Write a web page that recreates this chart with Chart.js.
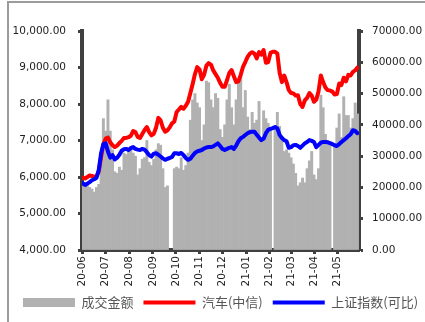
<!DOCTYPE html>
<html>
<head>
<meta charset="utf-8">
<script src="https://cdn.jsdelivr.net/npm/chart.js@4/dist/chart.umd.min.js"></script>
<style>
html, body { margin: 0; padding: 0; background: #fff; }
#wrap { position: relative; width: 425px; height: 322px; overflow: hidden; }
#frame { position: absolute; left: 7px; top: 1px; right: -10px; bottom: -10px;
         border-left: 2px solid #9b9b9b; border-top: 2px solid #9b9b9b; pointer-events: none; }
canvas { position: absolute; left: 0; top: 0; }
</style>
</head>
<body>
<div id="wrap"><canvas id="c" width="425" height="322"></canvas><div id="frame"></div></div>
<script>
// Sample dates (every third calendar day)
const dates = [
  '2020-06-09','2020-06-12','2020-06-15','2020-06-18','2020-06-21','2020-06-24','2020-06-27','2020-06-30',
  '2020-07-03','2020-07-06','2020-07-09','2020-07-12','2020-07-15','2020-07-18','2020-07-21','2020-07-24','2020-07-27','2020-07-30',
  '2020-08-02','2020-08-05','2020-08-08','2020-08-11','2020-08-14','2020-08-17','2020-08-20','2020-08-23','2020-08-26','2020-08-29',
  '2020-09-01','2020-09-04','2020-09-07','2020-09-10','2020-09-13','2020-09-16','2020-09-19','2020-09-22','2020-09-25','2020-09-28',
  '2020-10-01','2020-10-04','2020-10-07','2020-10-10','2020-10-13','2020-10-16','2020-10-19','2020-10-22','2020-10-25','2020-10-28','2020-10-31',
  '2020-11-03','2020-11-06','2020-11-09','2020-11-12','2020-11-15','2020-11-18','2020-11-21','2020-11-24','2020-11-27','2020-11-30',
  '2020-12-03','2020-12-06','2020-12-09','2020-12-12','2020-12-15','2020-12-18','2020-12-21','2020-12-24','2020-12-27','2020-12-30',
  '2021-01-02','2021-01-05','2021-01-08','2021-01-11','2021-01-14','2021-01-17','2021-01-20','2021-01-23','2021-01-26','2021-01-29',
  '2021-02-01','2021-02-04','2021-02-07','2021-02-10','2021-02-13','2021-02-16','2021-02-19','2021-02-22','2021-02-25','2021-02-28',
  '2021-03-03','2021-03-06','2021-03-09','2021-03-12','2021-03-15','2021-03-18','2021-03-21','2021-03-24','2021-03-27','2021-03-30',
  '2021-04-02','2021-04-05','2021-04-08','2021-04-11','2021-04-14','2021-04-17','2021-04-20','2021-04-23','2021-04-26','2021-04-29',
  '2021-05-02','2021-05-05','2021-05-08','2021-05-11','2021-05-14','2021-05-17','2021-05-20','2021-05-23','2021-05-26','2021-05-29',
  '2021-06-01','2021-06-04'
];

// 成交金额 (right axis); null = market closed
const turnover = [
  20500,21000,21500,20000,19500,18500,20000,21000,
  30000,42000,38000,48000,38000,32000,25000,24500,26500,25500,
  31000,30500,32000,33000,31000,30000,24000,26000,29000,29500,
  35000,28000,27000,29000,32000,34000,33500,26000,20000,20500,
  null,null,26000,26500,26000,29500,25500,27000,31000,41500,48000,
  50000,47000,45500,35000,40000,54000,53500,48000,45500,50000,
  48500,38500,36000,40000,48000,53000,45500,40000,48000,54000,
  56000,45500,51000,42500,38500,44000,40500,41500,47500,35000,
  44500,42000,40500,39000,null,39500,44000,39500,35000,31500,
  32000,31000,29500,27500,24500,20500,21500,23000,21500,26000,
  28500,31500,24000,22500,26000,49500,45500,37000,35000,33500,
  null,33000,39000,43500,36000,49000,43000,43000,39000,42000,
  47000,43500
];

// 汽车(中信) index (left axis)
const autoIndex = [
  5980,5960,6000,6040,6030,6000,6020,6150,
  6550,6900,7050,7080,6950,6870,6820,6860,6930,6990,
  7070,7070,7090,7130,7260,7230,7100,7070,7180,7290,
  7370,7230,7140,7180,7350,7620,7550,7350,7240,7280,
  7360,7470,7520,7780,7850,7920,7870,7950,8060,8300,8550,
  8820,9010,8950,8680,8800,9050,9120,9080,8920,8820,
  8720,8580,8470,8470,8650,8850,8930,8760,8600,8620,
  8800,9020,9150,9290,9380,9420,9380,9250,9420,9350,
  9480,9130,9150,9400,9430,9430,9380,8850,8600,8780,
  8600,8380,8300,8290,8230,8240,8000,7920,8100,8170,
  8300,8230,8060,8120,8350,8780,8600,8450,8380,8370,
  8340,8260,8270,8560,8520,8720,8620,8800,8780,8880,
  8920,9000
];

// 上证指数(可比) (left axis)
const shIndex = [
  5830,5780,5820,5860,5910,5940,5980,6200,
  6650,6900,6920,6700,6530,6600,6480,6530,6610,6720,
  6760,6770,6740,6790,6820,6770,6750,6740,6770,6750,
  6680,6600,6560,6640,6650,6610,6560,6510,6470,6500,
  6520,6550,6650,6650,6630,6660,6600,6520,6470,6500,6580,
  6660,6700,6720,6740,6780,6810,6820,6820,6840,6880,
  6920,6850,6770,6740,6770,6800,6820,6770,6860,6980,
  7060,7100,7150,7200,7230,7240,7240,7160,7080,7010,
  7050,7200,7290,7320,7340,7370,7330,7150,7070,7010,
  6980,6800,6820,6870,6880,6850,6800,6860,6920,6960,
  7010,6990,6960,6820,6880,6940,6960,6960,6950,6930,
  6900,6870,6850,6900,6960,7010,7060,7120,7170,7280,
  7260,7200
];

// Monthly axis ticks
const tickDates  = ['2020-06-09','2020-07-09','2020-08-09','2020-09-09','2020-10-09','2020-11-09',
                    '2020-12-09','2021-01-09','2021-02-09','2021-03-09','2021-04-09','2021-05-09'];
const tickLabels = ['20-06','20-07','20-08','20-09','20-10','20-11',
                    '20-12','21-01','21-02','21-03','21-04','21-05'];

const seriesNames = ['成交金额', '汽车(中信)', '上证指数(可比)'];

const DAY = 86400000;
const origin = Date.parse(dates[0] + 'T00:00:00Z');
const toDay = s => Math.round((Date.parse(s + 'T00:00:00Z') - origin) / DAY);
const dayLabels = dates.map(toDay);
const tickDays = tickDates.map(toDay);

const axisColor = '#404040';
const tickFont = { family: '"DejaVu Sans", sans-serif', size: 10.5 };
const textColor = '#1e1e1e';

Chart.defaults.font.family = '"DejaVu Sans", sans-serif';

// Nudge the legend row to the right
const legendShift = {
  id: 'legendShift',
  afterLayout(chart) {
    const lg = chart.legend;
    if (lg) { lg.left += 8; lg.right += 8; }
  }
};

new Chart(document.getElementById('c'), {
  type: 'bar',
  data: {
    labels: dayLabels,
    datasets: [
      {
        type: 'bar', label: seriesNames[0], data: turnover, yAxisID: 'y1',
        backgroundColor: '#b1b1b1', borderWidth: 0,
        barPercentage: 1, categoryPercentage: 1, order: 3
      },
      {
        type: 'line', label: seriesNames[1], data: autoIndex, yAxisID: 'y',
        borderColor: '#ff0000', backgroundColor: '#ff0000', borderWidth: 4,
        pointRadius: 0, tension: 0, borderJoinStyle: 'round', borderCapStyle: 'round', order: 2
      },
      {
        type: 'line', label: seriesNames[2], data: shIndex, yAxisID: 'y',
        borderColor: '#0000ff', backgroundColor: '#0000ff', borderWidth: 4,
        pointRadius: 0, tension: 0, borderJoinStyle: 'round', borderCapStyle: 'round', order: 1
      }
    ]
  },
  options: {
    responsive: false,
    animation: false,
    devicePixelRatio: 1,
    layout: { padding: { left: 0, right: 0, top: 31, bottom: 3 } },
    plugins: {
      tooltip: { enabled: false },
      legend: {
        position: 'bottom',
        labels: {
          usePointStyle: true,
          pointStyleWidth: 52,
          boxHeight: 9,
          padding: 10,
          color: '#555',
          font: { family: '"Noto Sans CJK SC", sans-serif', size: 13 },
          sort: (a, b) => a.datasetIndex - b.datasetIndex,
          generateLabels: chart => {
            const items = Chart.defaults.plugins.legend.labels.generateLabels(chart);
            items.forEach(it => {
              if (it.datasetIndex === 0) { it.pointStyle = 'rect'; it.lineWidth = 0; }
              else { it.pointStyle = 'line'; it.lineWidth = 4; }
            });
            return items;
          }
        }
      }
    },
    scales: {
      x: {
        type: 'linear',
        offset: false,
        min: -1, max: 362,
        afterBuildTicks: s => { s.ticks = tickDays.map(v => ({ value: v })); },
        afterFit: s => { s.height = 36; },
        ticks: {
          autoSkip: false, minRotation: 90, maxRotation: 90, padding: 2,
          color: textColor, font: tickFont,
          callback: (v, i) => tickLabels[i]
        },
        grid: { display: true, offset: false, drawOnChartArea: false, tickLength: 4, tickWidth: 3, tickColor: axisColor },
        border: { display: true, width: 4, color: axisColor }
      },
      y: {
        position: 'left',
        min: 4000, max: 10000,
        afterFit: s => { s.width = 82; },
        ticks: {
          stepSize: 1000, padding: 12, color: textColor, font: tickFont,
          callback: v => v.toLocaleString('en-US', { minimumFractionDigits: 2, maximumFractionDigits: 2 })
        },
        grid: { display: true, drawOnChartArea: false, tickLength: 4, tickWidth: 3, tickColor: axisColor },
        border: { display: true, width: 4, color: axisColor }
      },
      y1: {
        position: 'right',
        min: 0, max: 70000,
        afterFit: s => { s.width = 66; },
        ticks: {
          stepSize: 10000, padding: 9, color: textColor, font: tickFont,
          callback: v => v.toFixed(2)
        },
        grid: { display: true, drawOnChartArea: false, tickLength: 4, tickWidth: 3, tickColor: axisColor },
        border: { display: true, width: 4, color: axisColor }
      }
    }
  },
  plugins: [legendShift]
});
</script>
</body>
</html>
